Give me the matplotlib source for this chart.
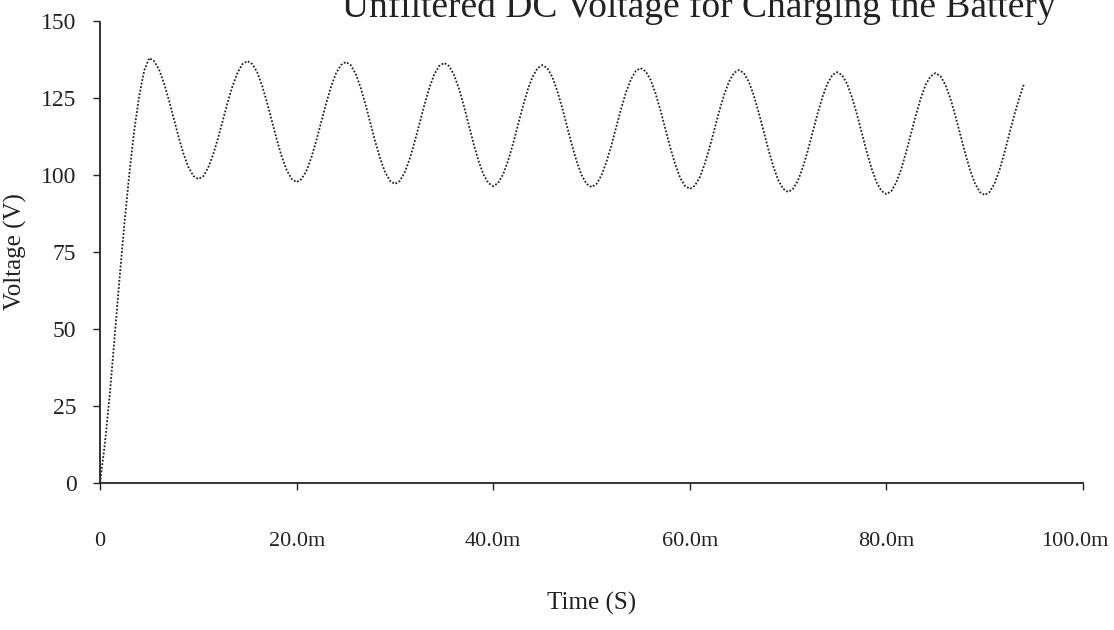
import matplotlib
matplotlib.use("Agg")
import matplotlib.pyplot as plt
import matplotlib.transforms as mtransforms
import numpy as np

# scope trace, one sample every 0.5 ms (time in ms, voltage in V)
sample_step_ms = 0.5
voltage = [
    # start-up ramp, first peak at 5 ms
    0, 13, 29, 48, 67, 85, 101, 115, 126, 134, 138.0,
    137.0, 134.3, 129.9, 124.4, 118.4, 112.3, 106.8, 102.5, 99.7, 98.7,
    99.6, 102.4, 106.6, 111.9, 117.9, 123.8, 129.1, 133.3, 136.1, 137.0,
    136.0, 133.3, 128.9, 123.4, 117.4, 111.3, 105.8, 101.5, 98.7, 97.7,
    98.7, 101.4, 105.7, 111.2, 117.2, 123.2, 128.7, 133.0, 135.7, 136.7,
    135.7, 132.9, 128.5, 123.0, 116.9, 110.8, 105.3, 100.9, 98.1, 97.1,
    98.1, 100.9, 105.2, 110.7, 116.8, 122.8, 128.3, 132.7, 135.4, 136.4,
    135.4, 132.6, 128.2, 122.6, 116.4, 110.2, 104.6, 100.2, 97.4, 96.4,
    97.4, 100.2, 104.5, 110.0, 116.1, 122.1, 127.6, 131.9, 134.7, 135.7,
    134.7, 131.9, 127.5, 122.0, 115.9, 109.8, 104.3, 99.9, 97.1, 96.1,
    97.1, 99.8, 104.1, 109.4, 115.4, 121.4, 126.8, 131.0, 133.8, 134.7,
    133.7, 131.0, 126.6, 121.2, 115.1, 109.0, 103.6, 99.2, 96.5, 95.5,
    96.5, 99.2, 103.5, 108.8, 114.8, 120.8, 126.2, 130.4, 133.2, 134.1,
    133.1, 130.3, 125.9, 120.4, 114.3, 108.2, 102.7, 98.3, 95.5, 94.5,
    95.5, 98.2, 102.5, 107.9, 114.0, 120.0, 125.4, 129.7, 132.5, 133.4,
    132.4, 129.6, 125.2, 119.7, 113.6, 107.5, 102.0, 97.6, 94.8, 93.8,
    94.8, 97.6, 101.9, 107.4, 113.5, 119.5, 125.0, 129.4, 132.1, 133.1,
    132.1, 129.3, 124.9, 119.4, 113.3, 107.2, 101.7, 97.3, 94.5, 93.5,
    94.5, 97.3, 101.6, 107.2, 113.3, 119.4, 124.9, 129.6,
]
time_ms = np.arange(len(voltage)) * sample_step_ms

x_ticks = [0, 20, 40, 60, 80, 100]
x_tick_labels = ["0", "20.0m", "40.0m", "60.0m", "80.0m", "100.0m"]
y_ticks = [0, 25, 50, 75, 100, 125, 150]
y_tick_labels = ["0", "25", "50", "75", "100", "125", "150"]

plt.rcParams["font.family"] = ["Liberation Serif", "DejaVu Serif"]

ink = "#222222"
fig = plt.figure(figsize=(11.14, 6.3), dpi=100)
ax = fig.add_axes([0.0898, 0.2333, 0.8824, 0.7333])

ax.plot(time_ms, voltage, color=ink, linestyle=(0, (1, 1)), linewidth=1.3)

ax.set_xlim(0, 100)
ax.set_ylim(0, 150)
ax.set_xticks(x_ticks)
ax.set_xticklabels(x_tick_labels)
ax.set_yticks(y_ticks)
ax.set_yticklabels(y_tick_labels)

for side in ["top", "right"]:
    ax.spines[side].set_visible(False)
for side in ["left", "bottom"]:
    ax.spines[side].set_linestyle((0, (1, 1)))
    ax.spines[side].set_linewidth(1.3)
    ax.spines[side].set_color(ink)

ax.tick_params(axis="x", direction="out", length=5, width=1, pad=30,
               labelsize=16, colors=ink)
ax.tick_params(axis="y", direction="out", length=5, width=1, pad=12,
               labelsize=17, colors=ink)

# nudge the last x label in a bit so it stays inside the picture
last = ax.get_xticklabels()[-1]
last.set_transform(last.get_transform()
                   + mtransforms.ScaledTranslation(-8 / 100, 0, fig.dpi_scale_trans))

ax.set_xlabel("Time (S)", fontsize=18, color=ink, labelpad=30)
ax.set_ylabel("Voltage (V)", fontsize=18, color=ink, labelpad=10)

# title sits partly above the top edge in the original
fig.text(0.627, 1 - 17 / 630, "Unfiltered DC Voltage for Charging the Battery",
         ha="center", va="baseline", fontsize=27, color=ink)

fig.savefig("out.png", dpi=100, facecolor="white")
